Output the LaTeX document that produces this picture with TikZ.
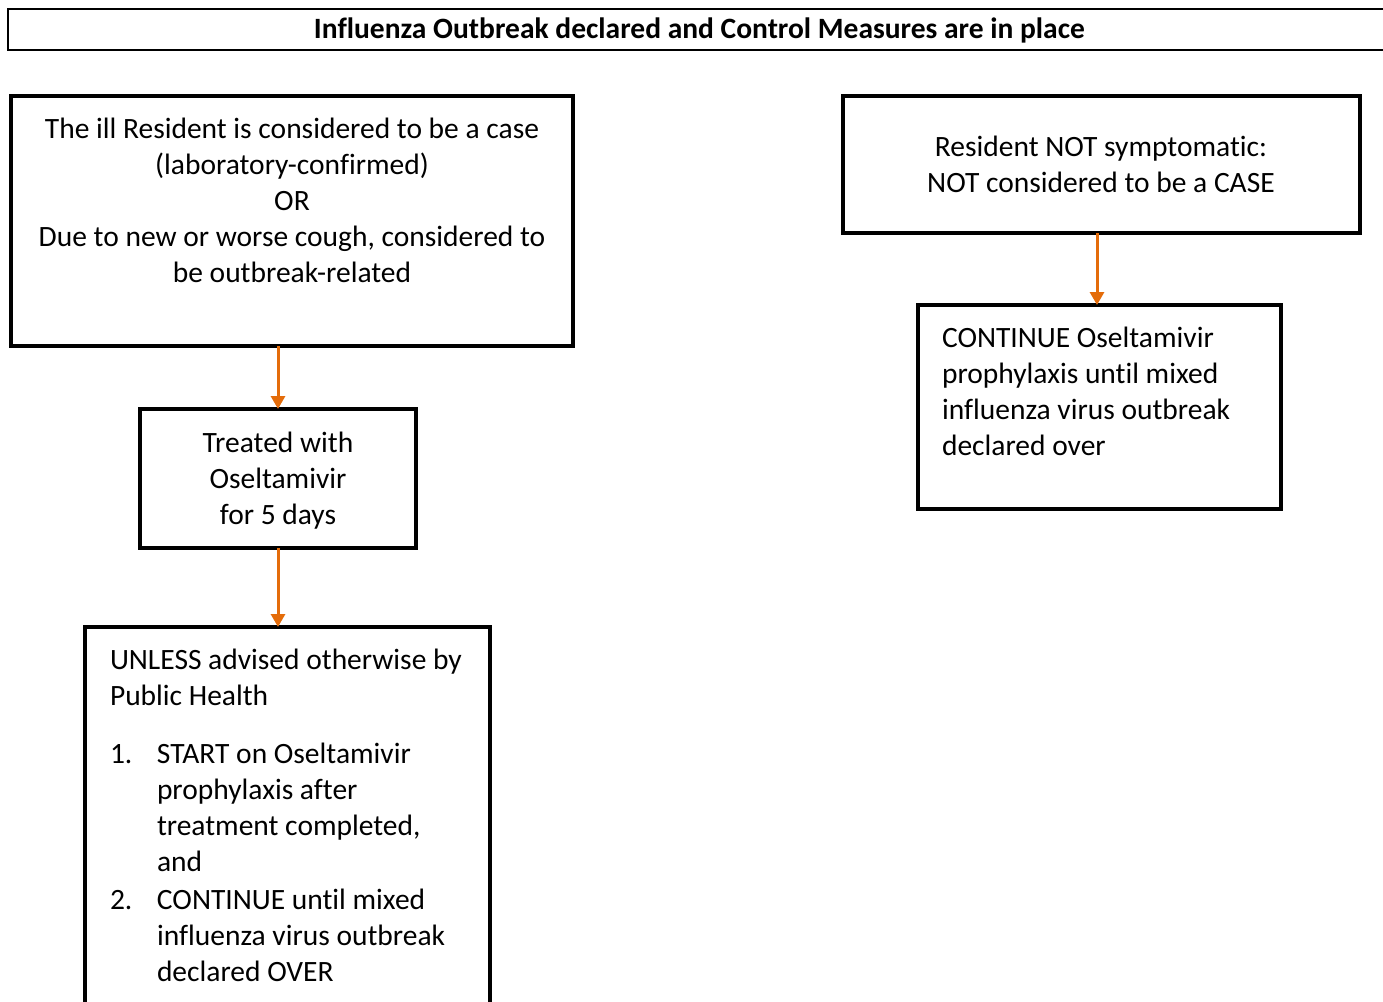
\documentclass[tikz,border=0pt]{standalone}
\usepackage{fontspec}
\setmainfont{Carlito}[Ligatures=NoCommon]
\usetikzlibrary{arrows.meta}
\definecolor{arrorange}{RGB}{228,108,10}
\begin{document}
\begin{tikzpicture}[x=1pt,y=-1pt,
  box/.style={draw,line width=3.5pt,inner sep=0pt,outer sep=0pt},
  txt/.style={inner sep=0pt,outer sep=0pt,font=\fontsize{29.5}{36}\selectfont},
  conn/.style={draw=arrorange,line width=3pt,-{Triangle[width=14pt,length=13pt]}}]
\useasboundingbox (0,0) rectangle (1383,1001);
% title
\node[draw,line width=1.8pt,inner sep=0pt,minimum width=1383pt,minimum height=41pt,anchor=north west,
  text height=22pt,text depth=3pt,
  font=\fontsize{29.5}{30}\bfseries\selectfont] (title) at (7,8) {Influenza Outbreak declared and Control Measures are in place};
% boxes
\node[box,minimum width=562pt,minimum height=250pt] (a) at (292,221) {};
\node[box,minimum width=276pt,minimum height=139pt] (b) at (278,478.5) {};
\node[box,minimum width=405pt,minimum height=400pt] (c) at (287.5,827) {};
\node[box,minimum width=517pt,minimum height=137pt] (d) at (1101.5,164.5) {};
\node[box,minimum width=363pt,minimum height=204pt] (e) at (1099.5,407) {};
% texts
\node[txt,align=center,anchor=north] (at) at (292,113.3) {\strut The ill Resident is considered to be a case\\(laboratory-confirmed)\\OR\\Due to new or worse cough, considered to\\be outbreak-related};
\node[txt,align=center,anchor=north] (bt) at (278,427.3) {\strut Treated with\\Oseltamivir\\for 5 days};
\node[txt,align=left,anchor=north west] (ct) at (110,644.3) {\strut UNLESS advised otherwise by\\Public Health\\[22pt]
\makebox[47pt][l]{1.}START on Oseltamivir\\
\hspace*{47pt}prophylaxis after\\
\hspace*{47pt}treatment completed,\\
\hspace*{47pt}and\\[2pt]
\makebox[47pt][l]{2.}CONTINUE until mixed\\
\hspace*{47pt}influenza virus outbreak\\
\hspace*{47pt}declared OVER};
\node[txt,align=center,anchor=north] (dt) at (1101,131.3) {\strut Resident NOT symptomatic:\\NOT considered to be a CASE};
\node[txt,align=left,anchor=north west] (et) at (942,322.3) {\strut CONTINUE Oseltamivir\\prophylaxis until mixed\\influenza virus outbreak\\declared over};
% connectors
\draw[conn] (b.north |- a.south) -- (b.north);
\draw[conn] (b.south) -- (b.south |- c.north);
\draw[conn] (d.south -| 1097,0) -- (e.north -| 1097,0);
\end{tikzpicture}
\end{document}
